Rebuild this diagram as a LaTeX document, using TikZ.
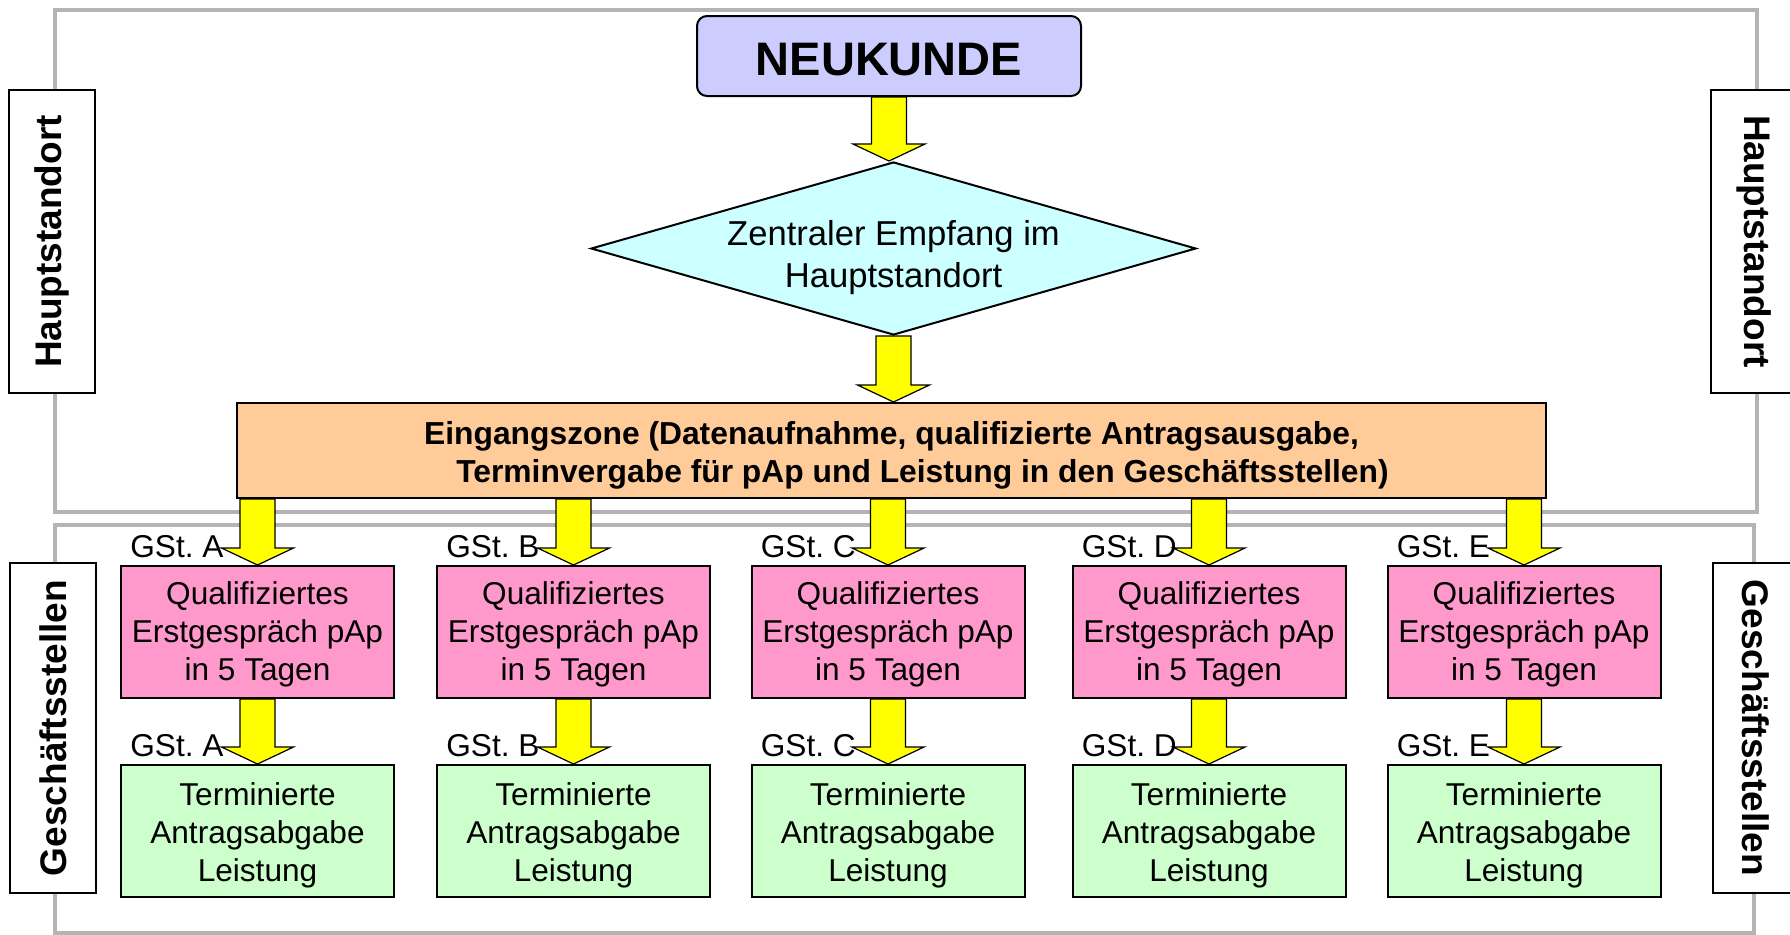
\documentclass[tikz,border=0pt]{standalone}
\usepackage{fontspec}
\setmainfont{Liberation Sans}
\usetikzlibrary{shapes.geometric,calc}
\frenchspacing

\definecolor{kundeblau}{HTML}{CCCCFF}
\definecolor{empfangtuerkis}{HTML}{CCFFFF}
\definecolor{eingangorange}{HTML}{FFCC99}
\definecolor{gesprrosa}{HTML}{FF99CC}
\definecolor{abgabegruen}{HTML}{CCFFCC}
\definecolor{pfeilgelb}{HTML}{FFFF00}
\definecolor{rahmengrau}{HTML}{B4B4B4}

\tikzset{
  kasten/.style={draw=black, line width=1pt, inner sep=0pt, align=center},
  kunde/.style={kasten, fill=kundeblau, rounded corners=5pt,
    minimum width=192pt, minimum height=40pt,
    font=\fontsize{23.5}{28}\selectfont\bfseries},
  empfang/.style={kasten, diamond, aspect=3.5, fill=empfangtuerkis,
    minimum width=302.5pt, minimum height=86.5pt},
  empfangtext/.style={inner sep=0pt, align=center, yshift=-4.5pt,
    font=\fontsize{17.3}{21}\selectfont},
  eingang/.style={kasten, fill=eingangorange,
    minimum width=654.5pt, minimum height=47.5pt,
    font=\fontsize{15.9}{19}\selectfont\bfseries},
  gespraech/.style={kasten, fill=gesprrosa,
    minimum width=136.5pt, minimum height=66pt,
    font=\fontsize{15.8}{19}\selectfont},
  abgabe/.style={kasten, fill=abgabegruen,
    minimum width=136.5pt, minimum height=66pt,
    font=\fontsize{15.8}{19}\selectfont},
  seite/.style={kasten, fill=white, minimum height=43pt,
    font=\fontsize{18.5}{22}\selectfont\bfseries},
  gst/.style={inner sep=0pt, anchor=base west, font=\fontsize{15.8}{19}\selectfont},
  rahmen/.style={draw=rahmengrau, line width=2pt},
  pfeil/.style={fill=pfeilgelb, draw=black, line width=0.6pt, line join=miter}
}

% dicker gelber Pfeil von #1 (oben) nach #2 (Spitze)
\newcommand{\gelbpfeil}[2]{%
  \filldraw[pfeil] let \p1=(#1), \p2=(#2) in
    (\x1-8.75pt,\y1) -- (\x1+8.75pt,\y1) -- (\x1+8.75pt,\y2+8.5pt)
    -- (\x1+18pt,\y2+8.5pt) -- (\x1,\y2) -- (\x1-18pt,\y2+8.5pt)
    -- (\x1-8.75pt,\y2+8.5pt) -- cycle;}

\begin{document}
\begin{tikzpicture}[x=0.5pt,y=-0.5pt]%
\useasboundingbox (0,0) rectangle (1790,934);%
\clip (0,0) rectangle (1790,934);%
%
% Rahmen Hauptstandort / Geschaeftsstellen
\draw[rahmen] (55,10) rectangle (1757,512);%
\draw[rahmen] (55,525) rectangle (1754,933);%
%
% Seitenbeschriftungen
\node[seite, rotate=90, minimum width=151.5pt] (hsl) at (52,241.5) {Hauptstandort};%
\node[seite, rotate=-90, minimum width=151.5pt] (hsr) at (1754,241.5) {Hauptstandort};%
\node[seite, rotate=90, minimum width=165pt] (gsl) at (53,728) {Geschäftsstellen};%
\node[seite, rotate=-90, minimum width=165pt] (gsr) at (1756,728) {Geschäftsstellen};%
%
% Hauptstandort
\node[kunde] (neu) at (889,56) {\rule{0pt}{20pt}NEUKUNDE};%
\node[empfang, label={[empfangtext]center:Zentraler Empfang im\\Hauptstandort}] (emp) at (893.5,248.5) {};%
\node[eingang] (ein) at (891.5,450.5) {\rule{0pt}{16.5pt}Eingangszone (Datenaufnahme, qualifizierte Antragsausgabe,\\\hspace*{31pt}Terminvergabe für pAp und Leistung in den Geschäftsstellen)};%
\gelbpfeil{neu.south}{emp.north}%
\gelbpfeil{emp.south}{ein.north}%
%
% Geschaeftsstellen A bis E
\foreach \gs/\xpos in {A/257.5, B/573.5, C/888, D/1209, E/1524} {%
  \node[gespraech] (q\gs) at (\xpos,632) {\rule{0pt}{14pt}Qualifiziertes\\Erstgespräch pAp\\in 5 Tagen};%
  \node[abgabe] (t\gs) at (\xpos,831) {\rule{0pt}{15.5pt}Terminierte\\Antragsabgabe\\Leistung};%
  \node[gst] (lq\gs) at ($(q\gs.north west)+(10,-8)$) {GSt. \gs};%
  \node[gst] (lt\gs) at ($(t\gs.north west)+(10,-8)$) {GSt. \gs};%
  \gelbpfeil{ein.south -| q\gs.north}{q\gs.north}%
  \gelbpfeil{q\gs.south}{t\gs.north}%
}%
%
\end{tikzpicture}
\end{document}
